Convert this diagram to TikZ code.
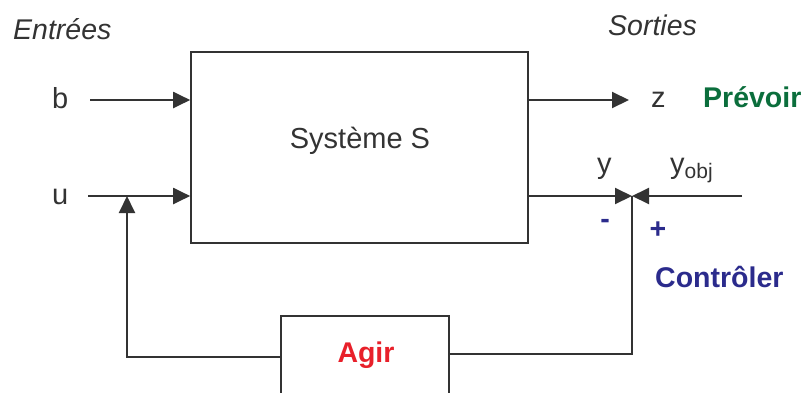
\documentclass[tikz,border=0pt]{standalone}
\usepackage{fontspec}
\setmainfont{Liberation Sans}
\usetikzlibrary{arrows.meta}
\definecolor{ink}{HTML}{333333}
\definecolor{vert}{HTML}{0B6E3C}
\definecolor{bleu}{HTML}{2B2B8C}
\definecolor{rouge}{HTML}{E8202A}
\tikzset{
  lbl/.style={inner sep=0pt, text=ink, font=\fontsize{29}{29}\selectfont},
  ilbl/.style={lbl, font=\fontsize{28.5}{28.5}\selectfont\itshape},
  blbl/.style={inner sep=0pt, font=\fontsize{28.5}{28.5}\selectfont\bfseries},
  blockbox/.style={draw=ink, line width=1.6pt, inner sep=0pt},
  wire/.style={draw=ink, line width=2pt},
  arr/.style={wire, -{Triangle[length=17pt,width=16pt]}},
}
\begin{document}
\begin{tikzpicture}[x=1pt,y=-1pt]
\useasboundingbox (0,0) rectangle (805,392);
\clip (0,0) rectangle (805,392);
% main system box
\node[blockbox, minimum width=337pt, minimum height=191pt] (S) at (359.5,147.5) {};
\node[lbl, anchor=base] (Stxt) at (360,148) {Système S};
% Agir box (open at the bottom, cut by the frame)
\node[inner sep=0pt, minimum width=168pt, minimum height=90pt] (agir) at (365,361) {};
\node[blbl, text=rouge, anchor=base] (agirtxt) at (366,362) {Agir};
\draw[blockbox] (agir.south west) -- (agir.north west) -- (agir.north east) -- (agir.south east);
% labels
\node[ilbl, anchor=base west] (entrees) at (13,39) {Entrées};
\node[ilbl, anchor=base west] (sorties) at (608,35) {Sorties};
\node[lbl, anchor=base west] (b) at (52,108) {b};
\node[lbl, anchor=base west] (u) at (52,204) {u};
\node[lbl, anchor=base west] (z) at (651,107) {z};
\node[blbl, text=vert, anchor=base west] (prevoir) at (703,107) {Prévoir};
\node[lbl, anchor=base west] (y) at (597,173) {y};
\node[lbl, anchor=base west] (yobj) at (670,173) {y\raisebox{-5pt}{\fontsize{21}{21}\selectfont obj}};
\node[blbl, text=bleu] (moins) at (605,224) {-};
\node[blbl, text=bleu] (plus) at (658,230) {+};
\node[blbl, text=bleu, anchor=base west] (controler) at (655,287) {Contrôler};
% coordinates
\coordinate (bstart) at (90,100);
\coordinate (ustart) at (88,196);
\coordinate (zend) at (629,100);
\coordinate (J) at (632,196);
\coordinate (yobjstart) at (742,196);
\coordinate (ufb) at (127,196);
\coordinate (fbR) at (632,354);
\coordinate (fbL) at (127,357);
% connectors
\draw[arr] (bstart) -- (S.west |- bstart);
\draw[arr] (ustart) -- (S.west |- ustart);
\draw[arr] (S.east |- zend) -- (zend);
\draw[arr] (S.east |- J) -- (J);
\draw[arr] (yobjstart) -- (J);
\draw[wire] (J) -- (fbR) -- (agir.east |- fbR);
\draw[arr] (agir.west |- fbL) -- (fbL) -- (ufb);
\end{tikzpicture}
\end{document}
